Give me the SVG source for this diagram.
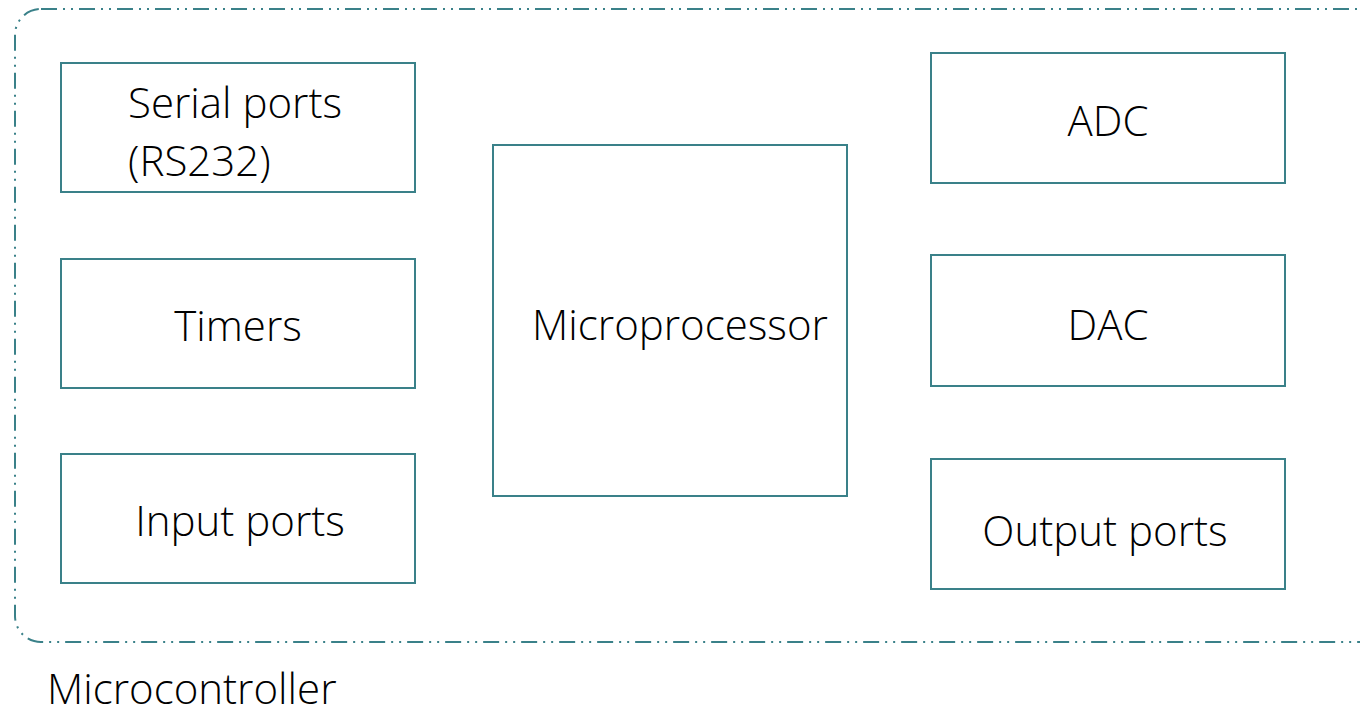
<svg xmlns="http://www.w3.org/2000/svg" width="1360" height="714" viewBox="0 0 1360 714">
<style>
.box{fill:#fff;stroke:#3a8189;stroke-width:2}
.t{font-family:"Open Sans","Noto Sans",sans-serif;font-weight:300;font-size:42px;fill:#000}
.frame{fill:none;stroke:#3a8189;stroke-width:2;stroke-dasharray:16 6 2 6 2 6}
</style>
<rect width="1360" height="714" fill="#fff"/>
<g id="frame"><rect class="frame" x="15" y="9" width="1375" height="633" rx="26" ry="26"/></g>
<g id="serial"><rect class="box" x="61" y="63" width="354" height="129"/><text class="t" x="128" y="118">Serial ports</text><text class="t" x="128" y="176">(RS232)</text></g>
<g id="timers"><rect class="box" x="61" y="259" width="354" height="129"/><text class="t" x="238" y="341" text-anchor="middle">Timers</text></g>
<g id="input"><rect class="box" x="61" y="454" width="354" height="129"/><text class="t" x="240" y="536" text-anchor="middle">Input ports</text></g>
<g id="micro"><rect class="box" x="493" y="145" width="354" height="351"/><text class="t" x="680" y="340" text-anchor="middle">Microprocessor</text></g>
<g id="adc"><rect class="box" x="931" y="53" width="354" height="130"/><text class="t" x="1108" y="136" text-anchor="middle">ADC</text></g>
<g id="dac"><rect class="box" x="931" y="255" width="354" height="131"/><text class="t" x="1108" y="340" text-anchor="middle">DAC</text></g>
<g id="output"><rect class="box" x="931" y="459" width="354" height="130"/><text class="t" x="1105" y="546" text-anchor="middle">Output ports</text></g>
<g id="connectors"></g>
<text class="t" x="47" y="704">Microcontroller</text>
</svg>
